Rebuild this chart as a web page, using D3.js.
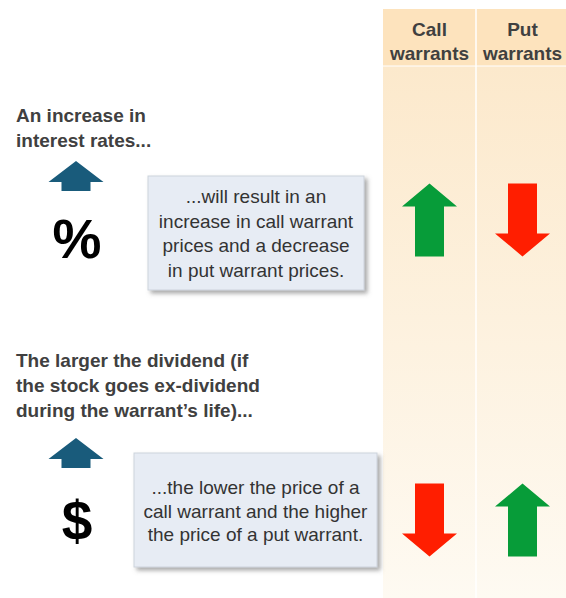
<!DOCTYPE html>
<html>
<head>
<meta charset="utf-8">
<script src="https://cdn.jsdelivr.net/npm/d3@7"></script>
<style>
    body { margin: 0; background: #fff; }
    svg { display: block; font-family: "Liberation Sans", Arial, sans-serif; }
</style>
</head>
<body>
<div id="chart"></div>
<script>
const config = {
    width: 566,
    height: 598,
    colLeft: 383,
    colRight: 569,
    headerTop: 9,
    headerBottom: 66
};

// data
const columns = ['Call warrants', 'Put warrants'];
const factorLabels = [
    ['An increase in', 'interest rates...'],
    ['The larger the dividend (if', 'the stock goes ex-dividend', 'during the warrant\u2019s life)...']
];
const factorSymbols = ['%', '$'];
const effectTexts = [
    ['...will result in an', 'increase in call warrant', 'prices and a decrease', 'in put warrant prices.'],
    ['...the lower the price of a', 'call warrant and the higher', 'the price of a put warrant.']
];
const callMoves = ['up', 'down'];
const putMoves = ['down', 'up'];

// layout of each row block
const rowLayout = [
    { labelY: 122, iconTop: 161, symbolY: 258, box: [148, 176, 216, 114], textY: 203, lineH: 24.6 },
    { labelY: 367, iconTop: 438, symbolY: 540, box: [134, 453, 243, 114], textY: 494, lineH: 23.5 }
];

const colors = {
    up: '#079c39',
    down: '#ff1e00',
    icon: '#195b7b',
    text: '#404040',
    boxText: '#333'
};

const svg = d3.select('#chart')
    .append('svg')
    .attr('width', config.width)
    .attr('height', config.height);

const defs = svg.append('defs');
const grad = defs.append('linearGradient')
    .attr('id', 'colGrad')
    .attr('x1', 0).attr('y1', 0).attr('x2', 0).attr('y2', 1);
grad.append('stop').attr('offset', '0%').attr('stop-color', '#fce9cc');
grad.append('stop').attr('offset', '100%').attr('stop-color', '#fefaf2');

defs.append('filter')
    .attr('id', 'shadow')
    .attr('x', '-10%').attr('y', '-10%').attr('width', '120%').attr('height', '130%')
    .append('feDropShadow')
    .attr('dx', 3).attr('dy', 3)
    .attr('stdDeviation', 2)
    .attr('flood-color', '#6f6f6f')
    .attr('flood-opacity', 0.6);

const xScale = d3.scaleBand()
    .domain(columns)
    .range([config.colLeft, config.colRight]);

const yScale = d3.scalePoint()
    .domain(d3.range(factorLabels.length))
    .range([220, 520]);

// column backgrounds
const cols = svg.append('g');
cols.selectAll('rect.body')
    .data(columns)
    .join('rect')
    .attr('class', 'body')
    .attr('x', d => xScale(d))
    .attr('y', config.headerBottom)
    .attr('width', xScale.bandwidth())
    .attr('height', config.height - config.headerBottom)
    .attr('fill', 'url(#colGrad)');

cols.selectAll('rect.head')
    .data(columns)
    .join('rect')
    .attr('class', 'head')
    .attr('x', d => xScale(d))
    .attr('y', config.headerTop)
    .attr('width', xScale.bandwidth())
    .attr('height', config.headerBottom - config.headerTop)
    .attr('fill', '#fde3bd');

cols.append('line')
    .attr('x1', xScale(columns[1]))
    .attr('x2', xScale(columns[1]))
    .attr('y1', config.headerTop)
    .attr('y2', config.height)
    .attr('stroke', '#fff')
    .attr('stroke-width', 1.5);

cols.append('line')
    .attr('x1', config.colLeft)
    .attr('x2', config.colRight)
    .attr('y1', config.headerBottom)
    .attr('y2', config.headerBottom)
    .attr('stroke', '#fff')
    .attr('stroke-width', 1);

// column headers
columns.forEach(c => {
    const words = c.split(' ');
    svg.append('text')
        .attr('x', xScale(c) + xScale.bandwidth() / 2)
        .attr('y', 36)
        .attr('text-anchor', 'middle')
        .attr('font-size', '19px')
        .attr('font-weight', 'bold')
        .attr('fill', colors.text)
        .selectAll('tspan')
        .data(words)
        .join('tspan')
        .attr('x', xScale(c) + xScale.bandwidth() / 2)
        .attr('dy', (d, i) => i === 0 ? 0 : 24)
        .text(d => d);
});

// big arrow path, centred at cx, cy
function bigArrow(cx, cy, dir) {
    const h = 73, headH = 23, headW = 55, stemW = 29;
    const s = dir === 'up' ? 1 : -1;
    const tipY = cy - s * h / 2;
    const baseY = tipY + s * headH;
    const endY = cy + s * h / 2;
    return d3.line()([
        [cx, tipY],
        [cx + headW / 2, baseY],
        [cx + stemW / 2, baseY],
        [cx + stemW / 2, endY],
        [cx - stemW / 2, endY],
        [cx - stemW / 2, baseY],
        [cx - headW / 2, baseY]
    ]) + 'Z';
}

// small icon arrow (up), tip at (cx, top)
function iconArrow(cx, top) {
    const headH = 21, headW = 55, stemW = 29, stemH = 9;
    return d3.line()([
        [cx, top],
        [cx + headW / 2, top + headH],
        [cx + stemW / 2, top + headH],
        [cx + stemW / 2, top + headH + stemH],
        [cx - stemW / 2, top + headH + stemH],
        [cx - stemW / 2, top + headH],
        [cx - headW / 2, top + headH]
    ]) + 'Z';
}

factorLabels.forEach((lines, i) => {
    const lay = rowLayout[i];
    const g = svg.append('g');

    // factor label
    g.append('text')
        .attr('font-size', '19px')
        .attr('font-weight', 'bold')
        .attr('fill', colors.text)
        .selectAll('tspan')
        .data(lines)
        .join('tspan')
        .attr('x', 16)
        .attr('y', (d, j) => lay.labelY + j * 25)
        .text(d => d);

    // icon arrow + symbol
    g.append('path')
        .attr('d', iconArrow(76, lay.iconTop))
        .attr('fill', colors.icon);

    g.append('text')
        .attr('x', 77)
        .attr('y', lay.symbolY)
        .attr('text-anchor', 'middle')
        .attr('font-size', '55px')
        .attr('font-weight', 'bold')
        .attr('fill', '#000')
        .text(factorSymbols[i]);

    // effect box
    const [bx, by, bw, bh] = lay.box;
    g.append('rect')
        .attr('x', bx).attr('y', by)
        .attr('width', bw).attr('height', bh)
        .attr('fill', '#e7ecf4')
        .attr('stroke', '#cdd3dc')
        .attr('stroke-width', 1)
        .attr('filter', 'url(#shadow)');

    g.append('text')
        .attr('text-anchor', 'middle')
        .attr('font-size', '19px')
        .attr('fill', colors.boxText)
        .selectAll('tspan')
        .data(effectTexts[i])
        .join('tspan')
        .attr('x', bx + bw / 2)
        .attr('y', (d, j) => lay.textY + j * lay.lineH)
        .text(d => d);

    // effect arrows
    [callMoves[i], putMoves[i]].forEach((dir, k) => {
        g.append('path')
            .attr('d', bigArrow(xScale(columns[k]) + xScale.bandwidth() / 2, yScale(i), dir))
            .attr('fill', colors[dir]);
    });
});
</script>
</body>
</html>
